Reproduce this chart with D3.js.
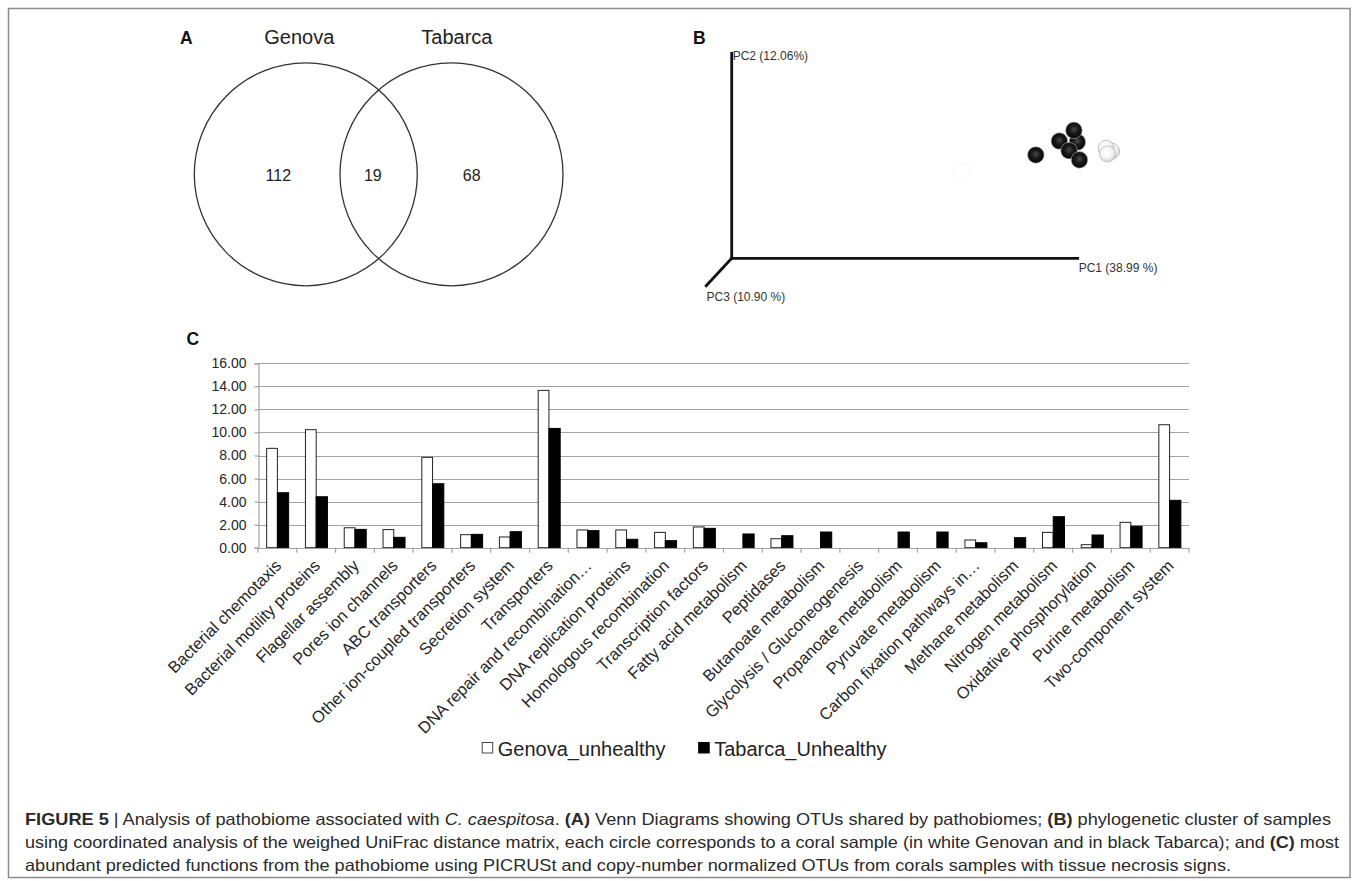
<!DOCTYPE html>
<html><head><meta charset="utf-8">
<script src="https://cdn.jsdelivr.net/npm/d3@7"></script>
<style>
body{margin:0;background:#fff}
svg{display:block}
text{font-family:"Liberation Sans",Arial,Helvetica,sans-serif}
</style>
</head><body>
<svg id="fig" width="1357" height="881"></svg>
<script>
// ---------------- DATA ----------------
const vennSets = ["Genova", "Tabarca"];
const vennCounts = [112, 19, 68]; // only Genova, shared, only Tabarca

const pcoaAxisLabels = ["PC1 (38.99 %)", "PC2 (12.06%)", "PC3 (10.90 %)"];
const tabarcaPC1 = [0.999, 0.947, 0.989, 0.975, 1.005, 0.879];
const tabarcaPC2 = [0.567, 0.572, 0.624, 0.525, 0.480, 0.504];
const genovaPC1 = [1.098, 1.082, 1.086];
const genovaPC2 = [0.523, 0.537, 0.509];
const ghostPC1 = [0.665];
const ghostPC2 = [0.426];

const categories = [
  "Bacterial chemotaxis", "Bacterial motility proteins", "Flagellar assembly",
  "Pores ion channels", "ABC transporters", "Other ion-coupled transporters",
  "Secretion system", "Transporters", "DNA repair and recombination…",
  "DNA replication proteins", "Homologous recombination", "Transcription factors",
  "Fatty acid metabolism", "Peptidases", "Butanoate metabolism",
  "Glycolysis / Gluconeogenesis", "Propanoate metabolism", "Pyruvate metabolism",
  "Carbon fixation pathways in…", "Methane metabolism", "Nitrogen metabolism",
  "Oxidative phosphorylation", "Purine metabolism", "Two-component system"
];
const seriesNames = ["Genova_unhealthy", "Tabarca_Unhealthy"];
const genovaValues  = [8.62, 10.24, 1.73, 1.57, 7.84, 1.13, 0.93, 13.65, 1.54, 1.54, 1.33, 1.80,
                       0, 0.78, 0, 0, 0, 0, 0.67, 0, 1.33, 0.26, 2.20, 10.67];
const tabarcaValues = [4.77, 4.42, 1.59, 0.90, 5.55, 1.16, 1.39, 10.35, 1.48, 0.73, 0.61, 1.68,
                       1.19, 1.04, 1.36, 0, 1.36, 1.36, 0.43, 0.87, 2.69, 1.10, 1.86, 4.11];
const yTicks = [0, 2, 4, 6, 8, 10, 12, 14, 16];

const captionLines = [
  [["FIGURE 5", "b"], [" | Analysis of pathobiome associated with ", ""], ["C. caespitosa", "i"], [". ", ""],
   ["(A)", "b"], [" Venn Diagrams showing OTUs shared by pathobiomes; ", ""], ["(B)", "b"],
   [" phylogenetic cluster of samples", ""]],
  [["using coordinated analysis of the weighed UniFrac distance matrix, each circle corresponds to a coral sample (in white Genovan and in black Tabarca); and ", ""],
   ["(C)", "b"], [" most", ""]],
  [["abundant predicted functions from the pathobiome using PICRUSt and copy-number normalized OTUs from corals samples with tissue necrosis signs.", ""]]
];

// ---------------- DRAW ----------------
const svg = d3.select("#fig");

// outer frame
svg.append("rect").attr("x", 8.5).attr("y", 8.5).attr("width", 1341.5).attr("height", 869)
  .attr("fill", "none").attr("stroke", "#8c8c8c").attr("stroke-width", 1.5);

// ---- Panel A : Venn ----
const gA = svg.append("g");
gA.append("text").attr("x", 180).attr("y", 44).attr("font-size", 17.5).attr("font-weight", "bold")
  .attr("fill", "#111").text("A");
const vennX = d3.scalePoint().domain(vennSets).range([305.8, 451.5]);
const vennR = 111.5, vennCy = 174.3;
gA.selectAll("circle.venn").data(vennSets).join("circle").attr("class", "venn")
  .attr("cx", d => vennX(d)).attr("cy", vennCy).attr("r", vennR)
  .attr("fill", "none").attr("stroke", "#333").attr("stroke-width", 1.3);
gA.selectAll("text.set").data(vennSets).join("text").attr("class", "set")
  .attr("x", (d, i) => vennX(d) + (i === 0 ? -6.5 : 5.4)).attr("y", 43.5)
  .attr("text-anchor", "middle").attr("font-size", 20).attr("fill", "#222").text(d => d);
const regionX = [278.3, 372.8, 471.7];
gA.selectAll("text.cnt").data(vennCounts).join("text").attr("class", "cnt")
  .attr("x", (d, i) => regionX[i]).attr("y", 180.5).attr("text-anchor", "middle")
  .attr("font-size", 16).attr("fill", "#222").text(d => d);

// ---- Panel B : PCoA ----
const gB = svg.append("g");
gB.append("text").attr("x", 693).attr("y", 44).attr("font-size", 17.5).attr("font-weight", "bold")
  .attr("fill", "#111").text("B");
const pcX = d3.scaleLinear().domain([0, 1]).range([731.7, 1077.7]);
const pcY = d3.scaleLinear().domain([0, 1]).range([258.3, 53.3]);
const axStyle = s => s.attr("stroke", "#111").attr("stroke-width", 2.8).attr("stroke-linecap", "square");
gB.append("line").attr("x1", pcX(0)).attr("y1", pcY(0)).attr("x2", pcX(0)).attr("y2", pcY(1)).call(axStyle);
gB.append("line").attr("x1", pcX(0)).attr("y1", pcY(0)).attr("x2", pcX(1)).attr("y2", pcY(0)).call(axStyle);
gB.append("line").attr("x1", pcX(0)).attr("y1", pcY(0)).attr("x2", pcX(0) - 25.5).attr("y2", pcY(0) + 27.5).call(axStyle);
gB.append("text").attr("x", pcX(1) + 1).attr("y", 272).attr("font-size", 12).attr("fill", "#333").text(pcoaAxisLabels[0]);
gB.append("text").attr("x", pcX(0) + 1).attr("y", 60).attr("font-size", 12).attr("fill", "#333").text(pcoaAxisLabels[1]);
gB.append("text").attr("x", 706.5).attr("y", 301).attr("font-size", 12).attr("fill", "#333").text(pcoaAxisLabels[2]);

const defs = svg.append("defs");
const gBlack = defs.append("radialGradient").attr("id", "sphBlack").attr("cx", "50%").attr("cy", "45%").attr("r", "55%");
gBlack.append("stop").attr("offset", "0%").attr("stop-color", "#4a4a4a");
gBlack.append("stop").attr("offset", "45%").attr("stop-color", "#1a1a1a");
gBlack.append("stop").attr("offset", "100%").attr("stop-color", "#050505");
const gWhite = defs.append("radialGradient").attr("id", "sphWhite").attr("cx", "45%").attr("cy", "40%").attr("r", "60%");
gWhite.append("stop").attr("offset", "0%").attr("stop-color", "#ffffff");
gWhite.append("stop").attr("offset", "60%").attr("stop-color", "#f4f4f4");
gWhite.append("stop").attr("offset", "100%").attr("stop-color", "#cfcfcf");

const sphR = 8.3;
gB.selectAll("circle.ghost").data(ghostPC1).join("circle").attr("class", "ghost")
  .attr("cx", (d, i) => pcX(d)).attr("cy", (d, i) => pcY(ghostPC2[i])).attr("r", sphR)
  .attr("fill", "#fff").attr("stroke", "#f6f6f6").attr("stroke-width", 1);
gB.selectAll("circle.tab").data(tabarcaPC1).join("circle").attr("class", "tab")
  .attr("cx", (d, i) => pcX(d)).attr("cy", (d, i) => pcY(tabarcaPC2[i])).attr("r", sphR)
  .attr("fill", "url(#sphBlack)").attr("stroke", "#bdbdbd").attr("stroke-width", 0.6);
gB.selectAll("circle.gen").data(genovaPC1).join("circle").attr("class", "gen")
  .attr("cx", (d, i) => pcX(d)).attr("cy", (d, i) => pcY(genovaPC2[i])).attr("r", 8)
  .attr("fill", "url(#sphWhite)").attr("stroke", "#b8b8b8").attr("stroke-width", 0.8);

// ---- Panel C : grouped bars ----
const gC = svg.append("g");
gC.append("text").attr("x", 186.5).attr("y", 345).attr("font-size", 17.5).attr("font-weight", "bold")
  .attr("fill", "#111").text("C");
const plotL = 258, plotR = 1189, plotT = 363.3, plotB = 547.7;
const y = d3.scaleLinear().domain([0, 16]).range([plotB, plotT]);
const x0 = d3.scaleBand().domain(categories).range([plotL, plotR]).paddingInner(0.42).paddingOuter(0.21);
const x1 = d3.scaleBand().domain(seriesNames).range([0, x0.bandwidth()]);
const xEdge = d3.scaleLinear().domain([0, categories.length]).range([plotL, plotR]);
const grid = "#a3a3a3";

// gridlines
gC.append("g").selectAll("line").data(yTicks.filter(d => d > 0)).join("line")
  .attr("x1", plotL).attr("x2", plotR).attr("y1", d => Math.round(y(d)) + 0.5).attr("y2", d => Math.round(y(d)) + 0.5)
  .attr("stroke", grid).attr("stroke-width", 1.2);

// y axis
const yAxis = gC.append("g").attr("transform", `translate(${plotL + 0.5},0)`)
  .call(d3.axisLeft(y).tickValues(yTicks).tickFormat(d3.format(".2f")).tickSize(4).tickPadding(8));
yAxis.select(".domain").attr("stroke", grid).attr("stroke-width", 1.2);
yAxis.selectAll(".tick line").attr("stroke", grid).attr("stroke-width", 1.2);
yAxis.selectAll(".tick text").attr("font-size", 14).attr("fill", "#262626")
  .attr("font-family", '"Liberation Sans",Arial,sans-serif');

// bars
const rows = categories.map((c, i) => ({ c, vals: [genovaValues[i], tabarcaValues[i]] }));
const groups = gC.append("g").selectAll("g").data(rows).join("g")
  .attr("transform", d => `translate(${x0(d.c)},0)`);
groups.selectAll("rect").data(d => d.vals.map((v, k) => ({ k, v })).filter(o => o.v > 0)).join("rect")
  .attr("x", o => x1(seriesNames[o.k]) + (o.k === 0 ? 0.5 : 0))
  .attr("width", o => x1.bandwidth() - (o.k === 0 ? 0.5 : 0))
  .attr("y", o => y(o.v)).attr("height", o => plotB - y(o.v))
  .attr("fill", o => o.k === 0 ? "#fff" : "#000")
  .attr("stroke", o => o.k === 0 ? "#222" : "#000").attr("stroke-width", 1);

// x axis line & boundary ticks
gC.append("line").attr("x1", plotL).attr("x2", plotR).attr("y1", Math.round(plotB) + 0.5).attr("y2", Math.round(plotB) + 0.5)
  .attr("stroke", grid).attr("stroke-width", 1.2);
gC.append("g").selectAll("line").data(d3.range(categories.length + 1)).join("line")
  .attr("x1", d => xEdge(d)).attr("x2", d => xEdge(d)).attr("y1", plotB).attr("y2", plotB + 5)
  .attr("stroke", grid).attr("stroke-width", 1.2);

// category labels
gC.append("g").selectAll("text").data(categories).join("text")
  .attr("transform", d => `translate(${x0(d) + x0.bandwidth() / 2 + 5},${plotB + 19}) rotate(-45)`)
  .attr("text-anchor", "end").attr("font-size", 16.5).attr("fill", "#262626").text(d => d);

// legend
const legX = [481.7, 698.2];
const leg = gC.append("g").selectAll("g").data(seriesNames).join("g")
  .attr("transform", (d, i) => `translate(${legX[i]},742)`);
leg.append("rect").attr("x", 0.5).attr("y", 0.5).attr("width", 10.5).attr("height", 10.5)
  .attr("fill", (d, i) => i === 0 ? "#fff" : "#000").attr("stroke", (d, i) => i === 0 ? "#444" : "#000");
leg.append("text").attr("x", 16).attr("y", 13.7).attr("font-size", 20).attr("fill", "#222").text(d => d);

// ---- caption ----
const capWidths = [1306, 1314, 1206];
const capBase = [825, 848, 870.5];
captionLines.forEach((parts, li) => {
  const t = svg.append("text").attr("x", 25).attr("y", capBase[li]).attr("font-size", 16.5)
    .attr("fill", "#2a2a2a").attr("textLength", capWidths[li]).attr("lengthAdjust", "spacingAndGlyphs");
  parts.forEach(([s, f]) => {
    const ts = t.append("tspan").text(s);
    if (f === "b") ts.attr("font-weight", "bold");
    if (f === "i") ts.attr("font-style", "italic");
  });
});
</script>
</body></html>
